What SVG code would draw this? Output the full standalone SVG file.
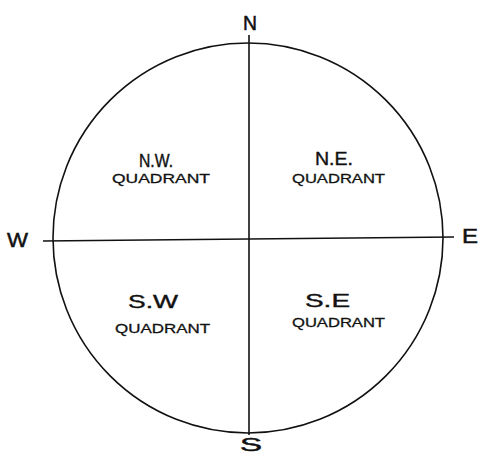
<svg xmlns="http://www.w3.org/2000/svg" width="480" height="455" viewBox="0 0 480 455">
<style>
.ln{fill:none;stroke:#111;stroke-width:1.6}
.dir{font-family:"Liberation Sans",Arial,sans-serif;font-size:20px;fill:#111;stroke:#111;stroke-width:0.5}
.q{font-family:"Liberation Sans",Arial,sans-serif;font-size:19px;fill:#111;stroke:#111;stroke-width:0.4}
.sub{font-family:"Liberation Sans",Arial,sans-serif;font-size:13.5px;fill:#111;stroke:#111;stroke-width:0.3}
</style>
<rect width="480" height="455" fill="#fff"/>
<g id="connectors">
<circle class="ln" cx="248" cy="238" r="195"/>
<line class="ln" x1="249" y1="35" x2="249" y2="435"/>
<line class="ln" x1="43" y1="241" x2="454" y2="237"/>
</g>
<g id="north"><text class="dir" x="243" y="30" textLength="14" lengthAdjust="spacingAndGlyphs">N</text></g>
<g id="west"><text class="dir" x="7" y="247" textLength="21" lengthAdjust="spacingAndGlyphs">W</text></g>
<g id="east"><text class="dir" x="462" y="243" textLength="16" lengthAdjust="spacingAndGlyphs">E</text></g>
<g id="south"><text class="dir" x="240" y="451" style="font-size:18px" textLength="22" lengthAdjust="spacingAndGlyphs">S</text></g>
<g id="nw">
<text class="q" x="139" y="167" textLength="34" lengthAdjust="spacingAndGlyphs">N.W.</text>
<text class="sub" x="112" y="183" textLength="98" lengthAdjust="spacingAndGlyphs">QUADRANT</text>
</g>
<g id="ne">
<text class="q" x="315" y="165" textLength="38" lengthAdjust="spacingAndGlyphs">N.E.</text>
<text class="sub" x="292" y="183" textLength="93" lengthAdjust="spacingAndGlyphs">QUADRANT</text>
</g>
<g id="sw">
<text class="q" x="128" y="308" textLength="50" lengthAdjust="spacingAndGlyphs">S.W</text>
<text class="sub" x="115" y="333" textLength="95" lengthAdjust="spacingAndGlyphs">QUADRANT</text>
</g>
<g id="se">
<text class="q" x="305" y="307" textLength="45" lengthAdjust="spacingAndGlyphs">S.E</text>
<text class="sub" x="292" y="327" textLength="93" lengthAdjust="spacingAndGlyphs">QUADRANT</text>
</g>
</svg>
